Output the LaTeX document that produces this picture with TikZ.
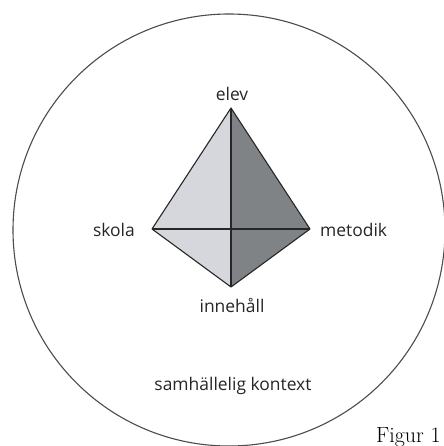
\documentclass[tikz,border=0pt]{standalone}
\usepackage{fontspec}
\newfontfamily\labfont{Open Sans}
\begin{document}
\begin{tikzpicture}[x=1bp,y=-1bp,
  lab/.style={font=\labfont\fontsize{17.5}{20}\selectfont, text=black!85, inner sep=0pt},
  edge/.style={draw=black!85, line width=1.1bp, line join=round}]
\useasboundingbox (0,0) rectangle (444,446);
\clip (0,0) rectangle (444,446);
\draw[black!70, line width=1.1bp] (229,230) circle (216);
\coordinate (E) at (231,108);
\coordinate (S) at (152,229);
\coordinate (M) at (310,229);
\coordinate (I) at (231,287);
\coordinate (C) at (231,229);
\fill[fill={rgb,255:red,214;green,215;blue,221}] (E) -- (S) -- (I) -- cycle;
\fill[fill={rgb,255:red,128;green,131;blue,134}] (E) -- (M) -- (I) -- cycle;
\draw[edge] (E) -- (S) -- (I) -- (M) -- cycle;
\draw[edge] (E) -- (I);
\draw[edge] (S) -- (M);
\node[lab, anchor=south] (elev) at (232,101) {elev};
\node[lab, anchor=east] (skola) at (135,230) {skola};
\node[lab, anchor=west] (metodik) at (320,230) {metodik};
\node[lab, anchor=north] (inneh) at (232,298) {innehåll};
\node[lab, anchor=center] (samh) at (233,386) {samhällelig kontext};
\node[anchor=base west, inner sep=0pt, font=\fontsize{22}{26}\selectfont] (fig) at (376,442) {Figur 1};
\end{tikzpicture}
\end{document}
